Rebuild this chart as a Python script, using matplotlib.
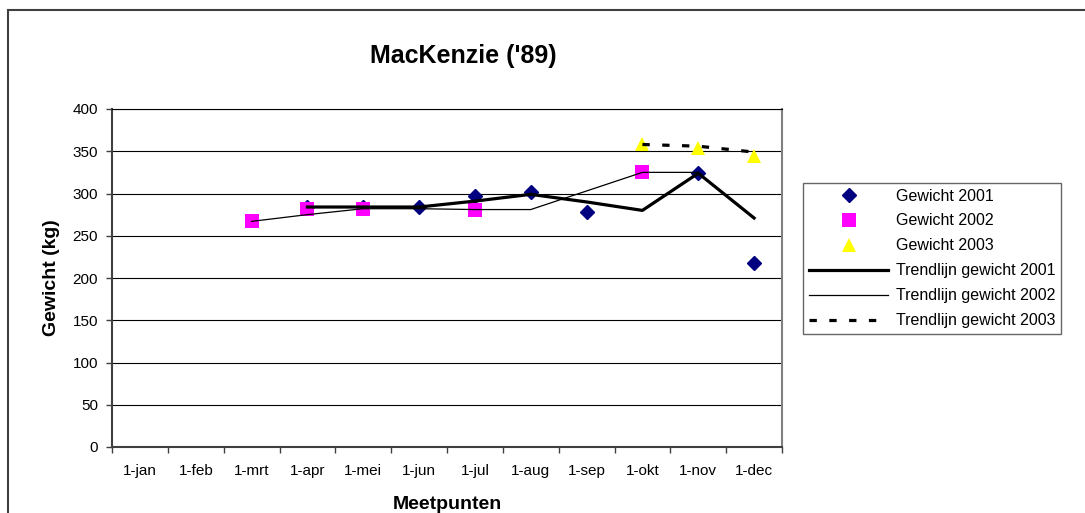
import numpy as np
import matplotlib
matplotlib.use('Agg')
import matplotlib.pyplot as plt
from matplotlib.patches import Rectangle

plt.rcParams['font.family'] = ['Liberation Sans', 'DejaVu Sans']

months = ['1-jan', '1-feb', '1-mrt', '1-apr', '1-mei', '1-jun',
          '1-jul', '1-aug', '1-sep', '1-okt', '1-nov', '1-dec']
nan = np.nan
# measured weights (kg), nan = no measurement
gewicht_2001 = [nan, nan, nan, 284, 284, 284, 297, 302, 278, nan, 324, 218]
gewicht_2002 = [nan, nan, 267, 282, 282, nan, 281, nan, nan, 325, nan, nan]
gewicht_2003 = [nan, nan, nan, nan, nan, nan, nan, nan, nan, 358, 354, 344]
# trendlines as drawn in the chart
trend_2001 = [nan, nan, nan, 284, 284, 284, 291, 299, 290, 280, 324, 271]
trend_2002 = [nan, nan, 267, 275, 282, 282, 281, 281, nan, 325, 325, nan]
trend_2003 = [nan, nan, nan, nan, nan, nan, nan, nan, nan, 358, 356, 349]


def valid(vals):
    x = np.arange(len(vals))
    v = np.array(vals, dtype=float)
    m = ~np.isnan(v)
    return x[m], v[m]


fig = plt.figure(figsize=(10.85, 5.13), dpi=100)
fig.patches.append(Rectangle((7.5 / 1085, -0.1), 1.2, 1.1 - 10 / 513, transform=fig.transFigure,
                             fill=False, edgecolor='#404040', linewidth=1.5))
ax = fig.add_axes([112 / 1085, 1 - 447 / 513, 670 / 1085, 338 / 513])

ax.plot(*valid(gewicht_2001), linestyle='none', marker='D', markersize=7, color='#000080',
        label='Gewicht 2001', zorder=3)
ax.plot(*valid(gewicht_2002), linestyle='none', marker='s', markersize=10, color='#ff00ff',
        markeredgewidth=0, label='Gewicht 2002', zorder=3)
ax.plot(*valid(gewicht_2003), linestyle='none', marker='^', markersize=10, color='#ffff00',
        markeredgewidth=0, label='Gewicht 2003', zorder=3)
ax.plot(*valid(trend_2001), color='black', linewidth=2.3, label='Trendlijn gewicht 2001', zorder=4)
ax.plot(*valid(trend_2002), color='black', linewidth=0.9, label='Trendlijn gewicht 2002', zorder=4)
ax.plot(*valid(trend_2003), color='black', linewidth=2.3, dashes=(2.3, 3.9),
        label='Trendlijn gewicht 2003', zorder=4)

ax.set_xlim(-0.5, 11.5)
ax.set_ylim(0, 400)
ax.set_yticks(np.arange(0, 401, 50))
ax.yaxis.grid(True, color='black', linewidth=0.8)
ax.set_axisbelow(True)
ax.set_xticks(np.arange(-0.5, 12, 1))
ax.set_xticklabels([])
ax.set_xticks(np.arange(12), minor=True)
ax.set_xticklabels(months, minor=True)
ax.tick_params(axis='x', which='major', direction='out', length=4, width=1, color='#404040')
ax.tick_params(axis='x', which='minor', length=0, pad=12, labelsize=11)
ax.tick_params(axis='y', direction='out', length=4, width=1, color='#404040', labelsize=11, pad=6)

for s in ['left', 'bottom']:
    ax.spines[s].set_color('#404040')
    ax.spines[s].set_linewidth(1.5)
ax.spines['right'].set_color('#808080')
ax.spines['right'].set_linewidth(1.5)
ax.spines['top'].set_color('black')
ax.spines['top'].set_linewidth(0.8)

ax.set_xlabel('Meetpunten', fontsize=14, fontweight='bold', labelpad=13)
ax.set_ylabel('Gewicht (kg)', fontsize=14, fontweight='bold', labelpad=9)
fig.text(463 / 1085, 1 - 56 / 513, "MacKenzie ('89)", fontsize=18, fontweight='bold',
         ha='center', va='center')

leg = fig.legend(loc='upper left', bbox_to_anchor=(803 / 1085, 1 - 183 / 513), fontsize=11.5,
                 frameon=True, fancybox=False, edgecolor='#404040', borderaxespad=0,
                 handlelength=5.0, handletextpad=0.45, labelspacing=0.62, borderpad=0.35)
leg.get_frame().set_linewidth(1.0)

fig.savefig('out.png', dpi=100)
